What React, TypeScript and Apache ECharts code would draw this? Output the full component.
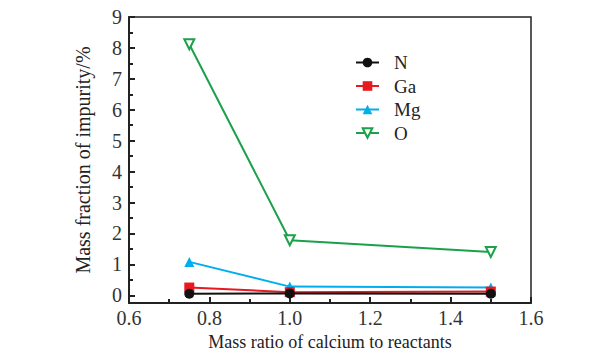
import React, { useEffect, useRef } from "react";
import * as echarts from "echarts";

const ratios = [0.75, 1.0, 1.5];
const nValues = [0.05, 0.06, 0.05];
const gaValues = [0.25, 0.1, 0.12];
const mgValues = [1.08, 0.28, 0.25];
const oValues = [8.12, 1.78, 1.4];

const seriesNames = ["N", "Ga", "Mg", "O"];
const seriesColors = ["#111111", "#e8191f", "#00aeef", "#1aa14a"];

const FONT = "Liberation Serif";

export default function App() {
  const ref = useRef<HTMLDivElement>(null);
  useEffect(() => {
    if (!ref.current) return;
    const chart = echarts.init(ref.current, undefined, { renderer: "svg" });
    const all = [nValues, gaValues, mgValues, oValues];
    const symbols = ["circle", "rect", "triangle", "triangle"];
    const series = all.map((vals, i) => ({
      name: seriesNames[i],
      type: "line",
      data: ratios.map((x, j) => [x, vals[j]]),
      symbol: symbols[i],
      symbolSize: 10,
      symbolRotate: i === 3 ? 180 : 0,
      showAllSymbol: true,
      lineStyle: { color: seriesColors[i], width: 2 },
      itemStyle:
        i === 3
          ? { color: "#ffffff", borderColor: seriesColors[i], borderWidth: 2 }
          : { color: seriesColors[i], borderColor: seriesColors[i], borderWidth: 0 },
      z: 2 + (3 - i),
    }));
    chart.setOption({
      animation: false,
      backgroundColor: "#ffffff",
      textStyle: { fontFamily: FONT },
      grid: {
        left: 129,
        right: 71,
        top: 17,
        bottom: 48,
        outerBoundsMode: "none",
        containLabel: false,
        show: true,
        borderColor: "#222222",
        borderWidth: 1.5,
        backgroundColor: "transparent",
      },
      legend: {
        orient: "vertical",
        left: 350,
        top: 48,
        itemWidth: 23,
        itemHeight: 12,
        itemGap: 4.5,
        data: seriesNames,
        textStyle: {
          fontFamily: FONT,
          fontSize: 19,
          color: "#222222",
          padding: [0, 0, 0, 10],
        },
      },
      xAxis: {
        type: "value",
        min: 0.6,
        max: 1.6,
        interval: 0.2,
        name: "Mass ratio of calcium to reactants",
        nameLocation: "middle",
        nameGap: 24,
        nameTextStyle: { fontFamily: FONT, fontSize: 18, lineHeight: 18, color: "#222222" },
        axisLine: { show: true, onZero: false, lineStyle: { color: "#222222", width: 2 } },
        axisTick: { show: true, inside: true, length: 6, lineStyle: { color: "#222222", width: 2 } },
        minorTick: { show: true, splitNumber: 2, length: 4, lineStyle: { color: "#222222", width: 2 } },
        splitLine: { show: false },
        axisLabel: {
          fontFamily: FONT,
          fontSize: 20,
          color: "#333333",
          margin: 5,
          formatter: (v: number) => v.toFixed(1),
        },
      },
      yAxis: {
        type: "value",
        min: -0.25,
        max: 9,
        splitNumber: 9,
        name: "Mass fraction of impurity/%",
        nameLocation: "middle",
        nameGap: 36,
        nameTextStyle: { fontFamily: FONT, fontSize: 20, color: "#222222" },
        axisLine: { show: true, onZero: false, lineStyle: { color: "#222222", width: 2 } },
        axisTick: { show: true, inside: true, length: 6, lineStyle: { color: "#222222", width: 2 } },
        minorTick: { show: true, splitNumber: 2, length: 4, lineStyle: { color: "#222222", width: 2 } },
        splitLine: { show: false },
        axisLabel: {
          fontFamily: FONT,
          fontSize: 20,
          color: "#333333",
          margin: 7,
          formatter: (v: number) => (v < 0 ? "" : String(Math.round(v))),
        },
      },
      series,
    });
    return () => chart.dispose();
  }, []);
  return <div ref={ref} style={{ width: 602, height: 351, position: "absolute", left: 0, top: 0 }} />;
}
